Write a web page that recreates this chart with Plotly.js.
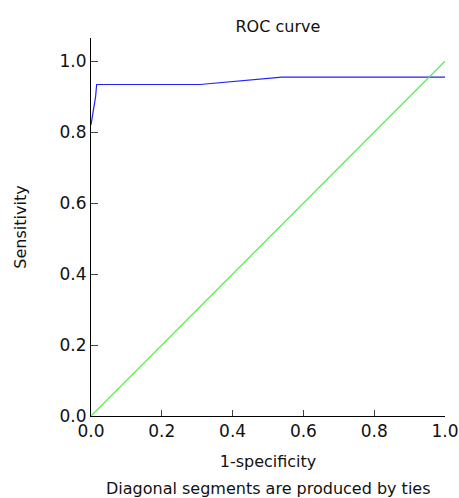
<!DOCTYPE html>
<html>
<head>
<meta charset="utf-8">
<script src="https://cdn.plot.ly/plotly-3.0.1.min.js"></script>
<style>html,body{margin:0;padding:0;background:#fff;}#chart{width:459px;height:498px;}</style>
</head>
<body>
<div id="chart"></div>
<script>
// ROC curve values
const rocFpr = [0, 0.013, 0.016, 0.308, 0.539, 1.0];
const rocTpr = [0.82, 0.90, 0.934, 0.934, 0.955, 0.955];
// Reference diagonal
const diagX = [0, 1];
const diagY = [0, 1];
const tickVals = [0, 0.2, 0.4, 0.6, 0.8, 1.0];
const tickText = ['0.0', '0.2', '0.4', '0.6', '0.8', '1.0'];

const FONT = 'DejaVu Sans, Verdana, sans-serif';

const traces = [
  {x: rocFpr, y: rocTpr, mode: 'lines', line: {color: '#2020ff', width: 1.2}, hoverinfo: 'skip', showlegend: false},
  {x: diagX, y: diagY, mode: 'lines', line: {color: '#44ee44', width: 1.2}, hoverinfo: 'skip', showlegend: false}
];

const layout = {
  width: 459, height: 498,
  margin: {l: 91, r: 14, t: 38, b: 82, pad: 0},
  paper_bgcolor: '#fff', plot_bgcolor: '#fff',
  font: {family: FONT, size: 16, color: '#111'},
  title: {text: 'ROC curve', font: {family: FONT, size: 16, color: '#111'}, x: 0.528, xref: 'paper', xanchor: 'center', y: 1 - 26 / 498, yref: 'container', yanchor: 'middle'},
  xaxis: {
    range: [0, 1], fixedrange: true,
    showgrid: false, zeroline: false,
    showline: true, linecolor: '#000', linewidth: 1,
    ticks: 'inside', ticklen: 6, tickcolor: '#444', tickwidth: 1,
    tickvals: tickVals, ticktext: tickText,
    tickfont: {family: FONT, size: 17, color: '#111'},
    title: {text: '1-specificity', font: {family: FONT, size: 16, color: '#111'}, standoff: 15}
  },
  yaxis: {
    range: [0, 1.065], fixedrange: true,
    showgrid: false, zeroline: false,
    showline: true, linecolor: '#000', linewidth: 1,
    ticks: 'inside', ticklen: 7, tickcolor: '#444', tickwidth: 1,
    tickvals: tickVals, ticktext: tickText,
    tickfont: {family: FONT, size: 17, color: '#111'},
    title: {text: 'Sensitivity', font: {family: FONT, size: 16, color: '#111'}, standoff: 28}
  },
  annotations: [{
    text: 'Diagonal segments are produced by ties',
    xref: 'paper', yref: 'paper', x: 0.5, y: (416 - 488) / 378, xanchor: 'center', yanchor: 'middle',
    showarrow: false, font: {family: FONT, size: 16, color: '#111'}
  }]
};

Plotly.newPlot('chart', traces, layout, {displayModeBar: false, staticPlot: true});
</script>
</body>
</html>
